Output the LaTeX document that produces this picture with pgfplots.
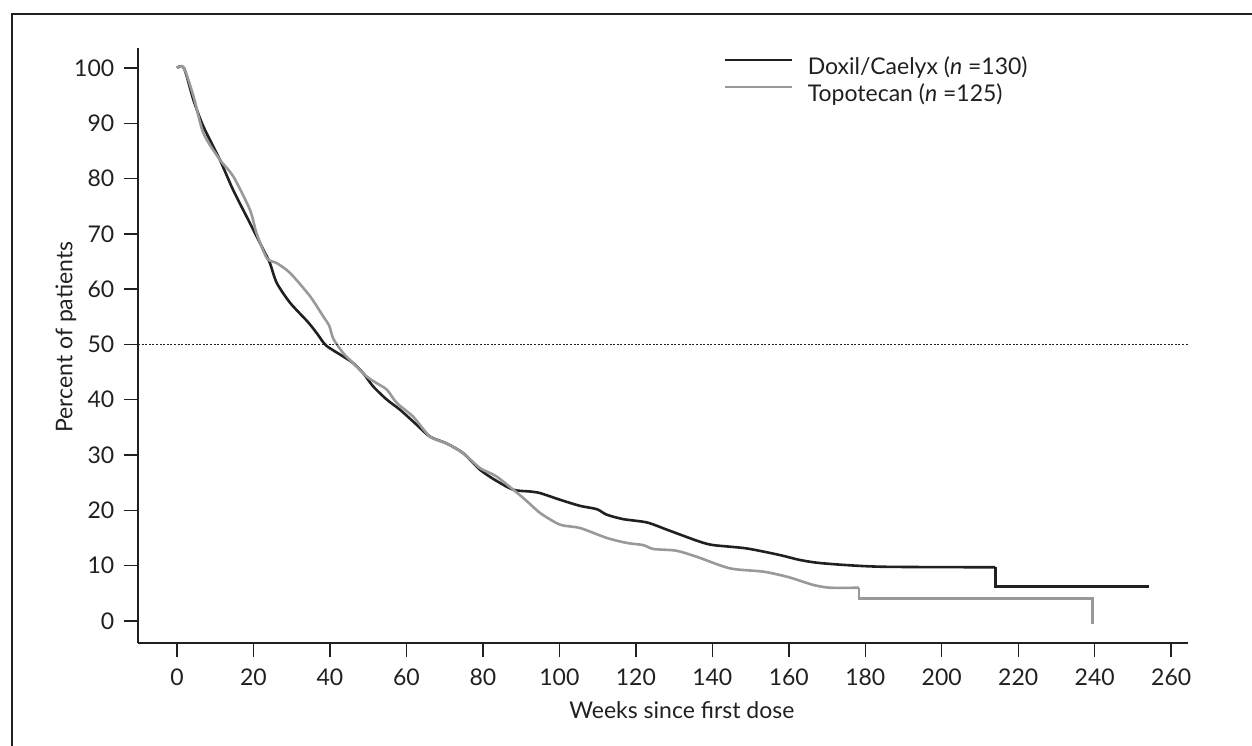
\documentclass[border=0pt]{standalone}
\usepackage{pgfplots}
\pgfplotsset{compat=1.18}
\usepackage{fontspec}
\setmainfont{Lato}
\definecolor{cblack}{HTML}{231F20}
\definecolor{cgrey}{HTML}{999999}
\begin{document}
\fontsize{11pt}{13pt}\selectfont
\begin{tikzpicture}
\path[use as bounding box] (-69pt,-51pt) rectangle (557pt,321.5pt);
\draw[line width=1pt,cblack] (-63pt,-55pt) -- (-63pt,314.5pt) -- (560pt,314.5pt);
\begin{axis}[
  at={(0pt,0pt)}, anchor=south west,
  scale only axis, width=525pt, height=297.5pt,
  xmin=-10.2, xmax=264.4, ymin=-4, ymax=103.6,
  axis x line=bottom, axis y line=left,
  axis line style={-, line width=0.7pt, cblack},
  xtick={0,20,...,260}, ytick={0,10,...,100},
  tick align=outside, major tick length=7pt,
  tick style={line width=0.7pt, cblack},
  /pgf/number format/assume math mode=true,
  ticklabel style={font=\fontsize{11.5pt}{13pt}\selectfont, text=cblack},
  xticklabel style={yshift=-2pt},
  yticklabel style={xshift=-1pt},
  xlabel={Weeks since first dose},
  ylabel={Percent of patients},
  every axis x label/.style={at={(axis description cs:0.518,-0.1126)}, anchor=center,
    font=\fontsize{11.5pt}{13pt}\selectfont, text=cblack},
  every axis y label/.style={at={(axis description cs:-0.0686,0.514)}, anchor=center, rotate=90,
    font=\fontsize{11.5pt}{13pt}\selectfont, text=cblack},
  legend style={draw=none, fill=none, at={(axis description cs:0.557,0.987)}, anchor=north west,
    font=\fontsize{11.5pt}{14pt}\selectfont, text=cblack,
    nodes={inner sep=0pt, text height=9pt, text depth=3pt},
    row sep=1.5pt, inner sep=0pt,
    /tikz/every odd column/.append style={column sep=7.5pt}},
  legend cell align=left,
  legend image code/.code={\draw[#1] (0pt,4pt) -- (33.5pt,4pt);},
]
\addplot[cblack, line width=1.3pt, smooth, tension=0.45] coordinates {
(0,100) (1.8,100) (4.3,94.2) (6.9,89.4) (11.2,83.4) (14.7,77.9) (19.1,71.9) (22.6,67.1)
(24.3,64.7) (26.1,61.1) (29.6,57.5) (34.3,54.0) (36.8,51.8) (39,49.8) (43.5,47.8) (46.1,46.6)
(48.7,44.8) (51.3,42.4) (54.9,40) (58.3,38.2) (62,35.9) (66.2,33.3) (70.5,32.1) (74.9,30.3)
(79.3,27.3) (83.6,25.3) (88,23.7) (92.3,23.4) (95,23.1) (100.2,21.9) (105.4,20.8) (109.8,20.2)
(112.4,19.2) (116.7,18.4) (122.9,17.8) (128.1,16.5) (132,15.5) (136.8,14.3) (140.3,13.7)
(149,13.1) (157.7,11.9) (163,11.0) (169.1,10.4) (183.9,9.8) (214,9.7)
};
\addlegendentry{Doxil/Caelyx (\textit{n} =130)}
\addplot[cgrey, line width=1.3pt, smooth, tension=0.45] coordinates {
(0,100) (1.8,100) (4.3,94.9) (6.9,88.2) (11.2,83.4) (14.7,80.4) (19.1,74.3) (20.8,70.1)
(23.5,65.6) (26.1,64.7) (29.6,62.9) (34.8,58.7) (38.3,55) (39.8,53.4) (40.9,51.0) (43.5,48.4)
(46.1,46.6) (49.6,44.2) (52.2,43) (54.9,41.8) (57.5,39.4) (61.8,36.9) (66.2,33.3) (70.5,32.1)
(74.9,30.3) (79.3,27.6) (83.6,26.1) (90.6,22.2) (95,19.5) (100.2,17.4) (105.4,16.8) (112.4,15)
(117.6,14.1) (122,13.7) (124.6,13) (130.5,12.7) (135.9,11.6) (144.6,9.5) (153.4,8.9) (160,7.9)
(166.4,6.5) (170.8,6.0) (178.4,6.0)
};
\addlegendentry{Topotecan (\textit{n} =125)}
\addplot[cblack, line width=1.3pt, forget plot] coordinates {(214,9.7) (214,6.2) (254.1,6.2)};
\addplot[cgrey, line width=1.3pt, forget plot] coordinates {(178.4,6.0) (178.4,4.0) (239.5,4.0) (239.5,-0.5)};
\addplot[cblack, line width=0.5pt, dash pattern=on 1pt off 0.8pt, forget plot] coordinates {(-10.2,50) (264.4,50)};
\end{axis}
\end{tikzpicture}
\end{document}
